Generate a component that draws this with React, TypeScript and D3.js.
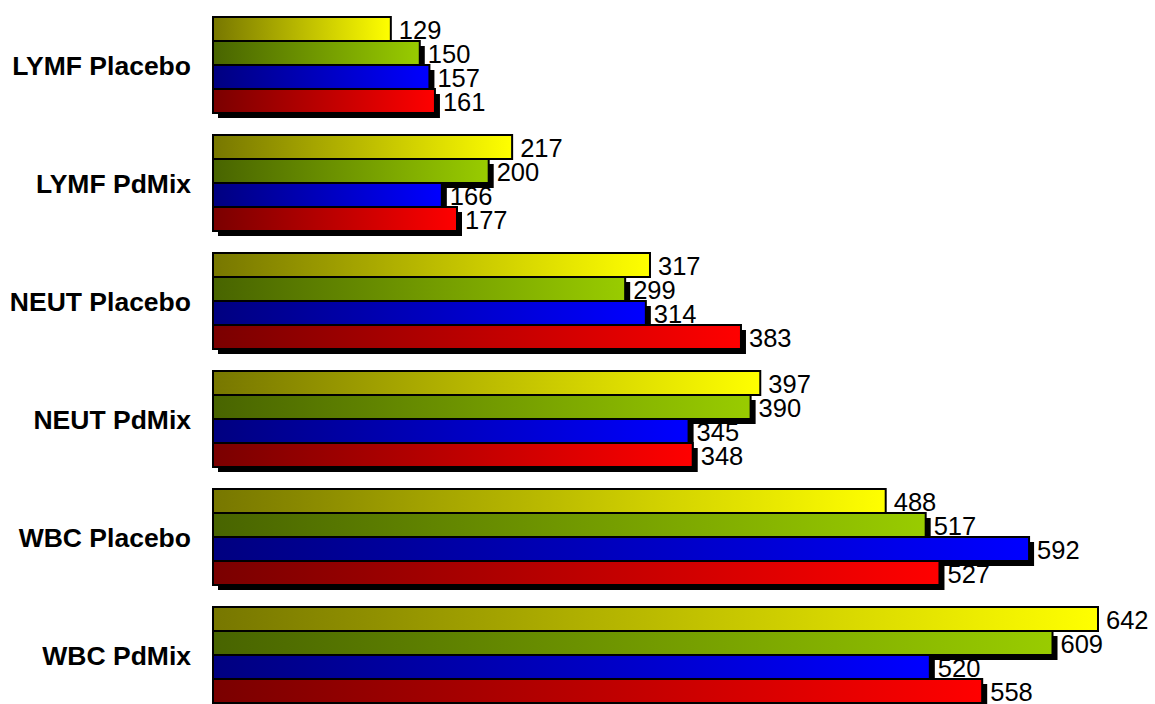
import React from "react";
import * as d3 from "d3";

const categories = ["LYMF Placebo", "LYMF PdMix", "NEUT Placebo", "NEUT PdMix", "WBC Placebo", "WBC PdMix"];
const seriesNames = ["s1", "s2", "s3", "s4"];
const s1 = [129, 217, 317, 397, 488, 642];
const s2 = [150, 200, 299, 390, 517, 609];
const s3 = [157, 166, 314, 345, 592, 520];
const s4 = [161, 177, 383, 348, 527, 558];
const seriesValues = [s1, s2, s3, s4];
const gradStops = [
  ["#777700", "#ffff00"],
  ["#486400", "#99cc00"],
  ["#000080", "#0000ff"],
  ["#7a0000", "#ff0000"],
];

export default function App() {
  const W = 1155, H = 704;
  const x = d3.scaleLinear().domain([0, 700]).range([213, 213 + 700 * (885 / 642)]);
  const y = d3.scaleBand<string>().domain(categories).range([6, 714]).paddingInner(22 / 118).paddingOuter(11 / 118);
  const ys = d3.scaleBand<string>().domain(seriesNames).range([0, y.bandwidth()]).padding(0);
  const sh = 5;
  return (
    <div style={{ position: "absolute", left: 0, top: 0 }}>
      <svg width={W} height={H} style={{ display: "block", fontFamily: "Arial, 'Liberation Sans', sans-serif" }}>
        <defs>
          {gradStops.map((g, i) => (
            <linearGradient key={i} id={`g${i}`} x1="0" y1="0" x2="1" y2="0">
              <stop offset="0" stopColor={g[0]} />
              <stop offset="1" stopColor={g[1]} />
            </linearGradient>
          ))}
        </defs>
        <rect width={W} height={H} fill="#fff" />
        {categories.map((c, ci) => {
          const gy = y(c)!;
          return (
            <g key={c}>
              <text x={191} y={gy + y.bandwidth() / 2 + 9.5} textAnchor="end" fontWeight="bold" fontSize={26.5} fill="#000">
                {c}
              </text>
              {seriesNames.map((s, si) => {
                const v = seriesValues[si][ci];
                const by = gy + ys(s)!;
                const bh = ys.bandwidth();
                const x0 = x(0), x1 = x(v);
                return (
                  <g key={s}>
                    {si > 0 && <rect x={x0 + sh} y={by + sh} width={x1 - x0} height={bh} fill="#000" />}
                    <rect x={x0} y={by} width={x1 - x0} height={bh} fill={`url(#g${si})`} stroke="#000" strokeWidth={2} />
                    <text x={x1 + 8} y={by + bh / 2 + 10} fontSize={25.5} fill="#000">
                      {v}
                    </text>
                  </g>
                );
              })}
            </g>
          );
        })}
      </svg>
    </div>
  );
}
